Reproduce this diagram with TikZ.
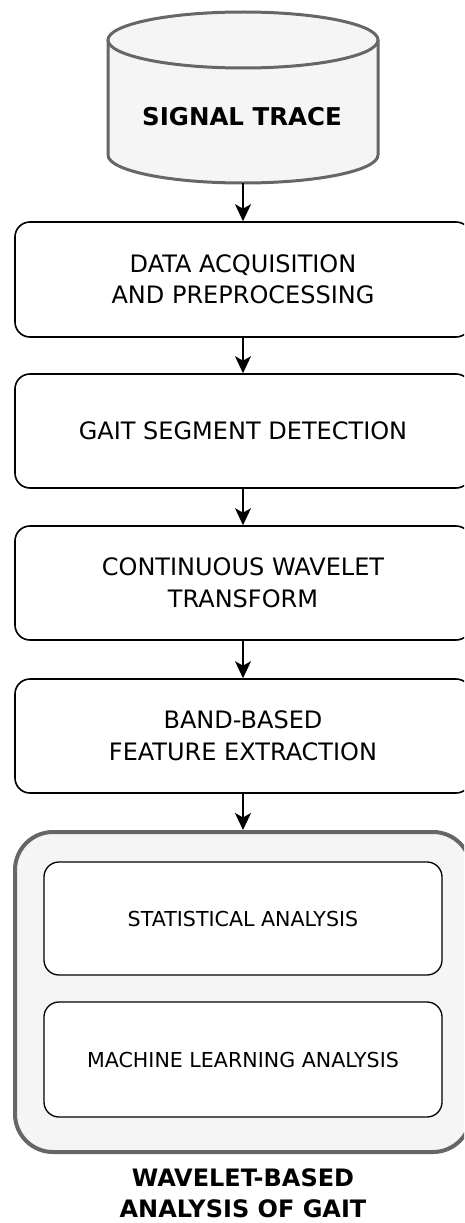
\documentclass[tikz,border=0pt]{standalone}
\usepackage{fontspec}
\setmainfont{DejaVu Sans}
\usetikzlibrary{arrows.meta}
\definecolor{strokegray}{HTML}{666666}
\definecolor{fillgray}{HTML}{F5F5F5}
\tikzset{
  arr/.style={-{Stealth[length=17pt,width=16pt,inset=4.5pt]}, line width=1.6pt},
  stepbox/.style={draw=black, line width=1.6pt, fill=white, rounded corners=15pt,
    minimum width=456pt, minimum height=114pt, align=center,
    font=\fontsize{24}{31.5}\selectfont, inner sep=0pt},
  innerbox/.style={draw=black, line width=1.3pt, fill=white, rounded corners=15pt,
    minimum width=398pt, minimum height=114pt, align=center,
    font=\fontsize{20.6}{26}\selectfont, inner sep=0pt},
  groupbox/.style={draw=strokegray, line width=4pt, fill=fillgray, rounded corners=38pt,
    minimum width=456pt, minimum height=320pt, inner sep=0pt},
  boldlabel/.style={align=center, font=\fontsize{24}{31}\selectfont\bfseries, inner sep=0pt}
}
\begin{document}
\begin{tikzpicture}[x=1pt,y=-1pt]
\useasboundingbox (0,0) rectangle (464,1223);
\clip (0,0) rectangle (464,1223);
% cylinder
\fill[fillgray] (108,40) -- (108,155) arc[start angle=180, end angle=360, x radius=135pt, y radius=28pt] -- (378,40) -- cycle;
\draw[strokegray, line width=3pt] (108,40) -- (108,155) arc[start angle=180, end angle=360, x radius=135pt, y radius=28pt] -- (378,40);
\draw[strokegray, line width=3pt, fill=fillgray] (243,40) ellipse[x radius=135pt, y radius=28pt];
\node[boldlabel, font=\fontsize{24.5}{30}\selectfont\bfseries] (sig) at (242,117) {SIGNAL TRACE};
\coordinate (sigbot) at (243,183);

\node[stepbox, minimum height=115pt] (b1) at (243,279.5) {DATA ACQUISITION\\AND PREPROCESSING};
\node[stepbox] (b2) at (243,431) {GAIT SEGMENT DETECTION};
\node[stepbox] (b3) at (243,583) {CONTINUOUS WAVELET\\TRANSFORM};
\node[stepbox] (b4) at (243,736) {BAND-BASED\\FEATURE EXTRACTION};

\node[groupbox] (grp) at (243,992) {};
\node[innerbox, minimum height=113pt] (s1) at (243,918.5) {STATISTICAL ANALYSIS};
\node[innerbox, minimum height=115pt] (s2) at (243,1059.5) {MACHINE LEARNING ANALYSIS};

\node[boldlabel] (title) at (243,1193) {WAVELET-BASED\\ANALYSIS OF GAIT};

\draw[arr] (sigbot) -- (b1.north);
\draw[arr] (b1.south) -- (b2.north);
\draw[arr] (b2.south) -- (b3.north);
\draw[arr] (b3.south) -- (b4.north);
\draw[arr] (b4.south) -- (grp.north);
\end{tikzpicture}
\end{document}
